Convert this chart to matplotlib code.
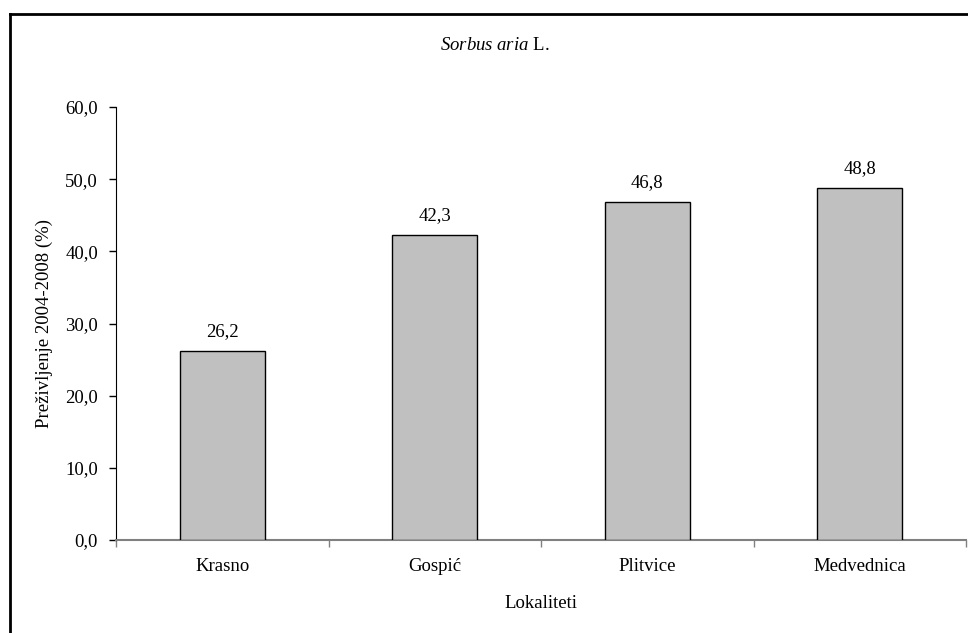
import matplotlib.pyplot as plt
from matplotlib.lines import Line2D

plt.rcParams['font.family'] = ['Liberation Serif', 'DejaVu Serif']
plt.rcParams['mathtext.fontset'] = 'custom'
plt.rcParams['mathtext.rm'] = 'Liberation Serif'
plt.rcParams['mathtext.it'] = 'Liberation Serif:italic'

localities = ["Krasno", "Gospić", "Plitvice", "Medvednica"]
survival = [26.2, 42.3, 46.8, 48.8]
yticks = [0, 10, 20, 30, 40, 50, 60]

FS = 13.5
W, H = 968, 633
fig = plt.figure(figsize=(W / 100, H / 100), dpi=100)
ax = fig.add_axes([116 / W, (H - 540) / H, (966 - 116) / W, (540 - 107) / H])

x = range(len(localities))
ax.bar(x, survival, width=0.4, color="#c0c0c0", edgecolor="black", linewidth=1.0, zorder=3)

for xi, v in zip(x, survival):
    ax.annotate(f"{v:.1f}".replace(".", ","), (xi, v), xytext=(0, 8),
                textcoords="offset points", ha="center", va="bottom", fontsize=FS)

ax.set_xlim(-0.5, len(localities) - 0.5)
ax.set_ylim(0, 60)
ax.set_yticks(yticks)
ax.set_yticklabels([f"{t:.1f}".replace(".", ",") for t in yticks], fontsize=FS)

# category boundaries carry the tick marks, names sit in between
ax.set_xticks([i - 0.5 for i in range(len(localities) + 1)])
ax.set_xticklabels([])
ax.set_xticks(list(x), minor=True)
ax.set_xticklabels(localities, minor=True, fontsize=FS)
ax.tick_params(axis="x", which="major", length=5, width=1, color="#808080", direction="out")
ax.tick_params(axis="x", which="minor", length=0, pad=13)
ax.tick_params(axis="y", length=5, width=1, direction="out", pad=8)

for s in ["top", "right"]:
    ax.spines[s].set_visible(False)
ax.spines["left"].set_color("black")
ax.spines["bottom"].set_color("#808080")
ax.spines["bottom"].set_linewidth(1.5)

ax.set_ylabel("Preživljenje 2004-2008 (%)", fontsize=FS, labelpad=9)
ax.set_xlabel("Lokaliteti", fontsize=FS, labelpad=14)

fig.text(495 / W, 1 - 45 / H, r"$\mathit{Sorbus\ aria}$ L.", ha="center", va="center", fontsize=FS)

# outer chart frame (only left and top edges fall inside the picture)
fig.add_artist(Line2D([10 / W, 10 / W], [0, 1 - 14 / H], color="black", linewidth=2))
fig.add_artist(Line2D([10 / W, 1], [1 - 14 / H, 1 - 14 / H], color="black", linewidth=2))

fig.savefig("out.png", dpi=100)
